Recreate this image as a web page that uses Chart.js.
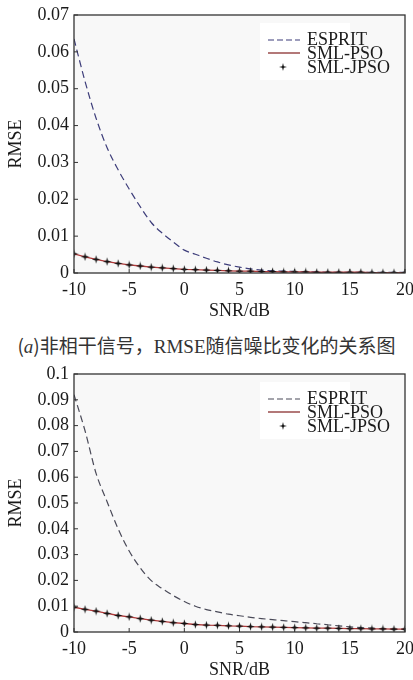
<!DOCTYPE html>
<html>
<head>
<meta charset="utf-8">
<script src="https://cdn.jsdelivr.net/npm/chart.js@4.4.0/dist/chart.umd.min.js"></script>
<style>
  html, body { margin: 0; padding: 0; background: #fff; }
  body { width: 413px; height: 680px; position: relative; overflow: hidden; font-family: "Liberation Serif", serif; color: #1a1a1a; }
  .plot { position: absolute; left: 0; width: 413px; height: 325px; }
  .caption { position: absolute; left: 0; width: 413px; top: 333px; text-align: center; font-size: 19px; line-height: 24px; color: #333; font-family: "Noto Sans CJK SC", sans-serif; }
  .caption .lat { font-family: "Liberation Serif", serif; }
  .legend { position: absolute; left: 260px; width: 90px; height: 57px; background: #fff; padding: 9px 0 0 8px; box-sizing: border-box; }
  .legend .row { height: 14px; line-height: 14px; white-space: nowrap; font-size: 18px; display: flex; align-items: center; }
  .legend svg { width: 32px; height: 14px; margin-right: 7px; flex: none; }
</style>
</head>
<body>
<div class="plot" style="top:0"><canvas id="chart1"></canvas></div>
<div class="legend" style="top:23px">
  <div class="row"><svg viewBox="0 0 32 14"><line x1="0" y1="8" x2="32" y2="8" stroke="#3d3d7a" stroke-width="1.2" stroke-dasharray="6,3"/></svg><span>ESPRIT</span></div>
  <div class="row"><svg viewBox="0 0 32 14"><line x1="0" y1="7" x2="32" y2="7" stroke="#8a2f2f" stroke-width="1.3"/></svg><span>SML-PSO</span></div>
  <div class="row"><svg viewBox="0 0 32 14"><path d="M15 3 L15.8 6.2 L19 7 L15.8 7.8 L15 11 L14.2 7.8 L11 7 L14.2 6.2 Z" fill="#111"/></svg><span>SML-JPSO</span></div>
</div>
<div class="caption">(<i class="lat">a</i>)非相干信号，<span class="lat">RMSE</span>随信噪比变化的关系图</div>
<div class="plot" style="top:359px"><canvas id="chart2"></canvas></div>
<div class="legend" style="top:382px">
  <div class="row"><svg viewBox="0 0 32 14"><line x1="0" y1="8" x2="32" y2="8" stroke="#4a4a58" stroke-width="1.2" stroke-dasharray="6,3"/></svg><span>ESPRIT</span></div>
  <div class="row"><svg viewBox="0 0 32 14"><line x1="0" y1="7" x2="32" y2="7" stroke="#8a2f2f" stroke-width="1.3"/></svg><span>SML-PSO</span></div>
  <div class="row"><svg viewBox="0 0 32 14"><path d="M15 3 L15.8 6.2 L19 7 L15.8 7.8 L15 11 L14.2 7.8 L11 7 L14.2 6.2 Z" fill="#111"/></svg><span>SML-JPSO</span></div>
</div>
<script>
const snr = [-10, -9, -8, -7, -6, -5, -4, -3, -2, -1, 0, 1, 2, 3, 4, 5, 6, 7, 8, 9, 10, 11, 12, 13, 14, 15, 16, 17, 18, 19, 20];
const xTicks = [-10, -5, 0, 5, 10, 15, 20];

// (a) incoherent signals
const yTicks1 = [0, 0.01, 0.02, 0.03, 0.04, 0.05, 0.06, 0.07];
const esprit1 = [0.0635, 0.052, 0.042, 0.034, 0.028, 0.0228, 0.018, 0.0137, 0.0108, 0.0084, 0.0062, 0.0051, 0.004, 0.003, 0.0022, 0.0016, 0.0011, 0.0008, 0.0006, 0.0005, 0.0004, 0.0003, 0.0003, 0.0002, 0.0002, 0.0002, 0.0002, 0.0002, 0.0002, 0.0002, 0.0002];
const pso1 = [0.0052, 0.0044, 0.0037, 0.0031, 0.0026, 0.0022, 0.0019, 0.0016, 0.0014, 0.0012, 0.001, 0.0009, 0.0008, 0.0007, 0.0006, 0.0005, 0.0005, 0.0004, 0.0004, 0.0003, 0.0003, 0.0003, 0.0002, 0.0002, 0.0002, 0.0002, 0.0002, 0.0001, 0.0001, 0.0001, 0.0001];
const jpso1 = [0.0052, 0.0044, 0.0037, 0.0031, 0.0026, 0.0022, 0.0019, 0.0016, 0.0014, 0.0012, 0.001, 0.0009, 0.0008, 0.0007, 0.0006, 0.0005, 0.0005, 0.0004, 0.0004, 0.0003, 0.0003, 0.0003, 0.0002, 0.0002, 0.0002, 0.0002, 0.0002, 0.0001, 0.0001, 0.0001, 0.0001];

// second panel
const yTicks2 = [0, 0.01, 0.02, 0.03, 0.04, 0.05, 0.06, 0.07, 0.08, 0.09, 0.1];
const esprit2 = [0.092, 0.078, 0.0615, 0.0505, 0.04, 0.0314, 0.0249, 0.0199, 0.0168, 0.0141, 0.0118, 0.01, 0.0087, 0.0078, 0.0069, 0.0063, 0.0057, 0.0052, 0.0048, 0.0044, 0.004, 0.0036, 0.0032, 0.0028, 0.0024, 0.002, 0.0017, 0.0015, 0.0013, 0.0012, 0.0011];
const pso2 = [0.0096, 0.0088, 0.0081, 0.0072, 0.0064, 0.0059, 0.0052, 0.0046, 0.0041, 0.0036, 0.0033, 0.0029, 0.0027, 0.0026, 0.0024, 0.0023, 0.0021, 0.002, 0.0019, 0.0018, 0.0017, 0.0016, 0.0015, 0.0015, 0.0014, 0.0013, 0.0013, 0.0012, 0.0012, 0.0011, 0.0011];
const jpso2 = [0.0096, 0.0088, 0.0081, 0.0072, 0.0064, 0.0059, 0.0052, 0.0046, 0.0041, 0.0036, 0.0033, 0.0029, 0.0027, 0.0026, 0.0024, 0.0023, 0.0021, 0.002, 0.0019, 0.0018, 0.0017, 0.0016, 0.0015, 0.0015, 0.0014, 0.0013, 0.0013, 0.0012, 0.0012, 0.0011, 0.0011];

const tickFont = { family: "'Liberation Serif', serif", size: 18 };

// little four-pointed star used as marker
function makeStar() {
    const c = document.createElement('canvas');
    c.width = 9; c.height = 9;
    const g = c.getContext('2d');
    g.fillStyle = '#111';
    g.beginPath();
    g.moveTo(4.5, 0.3); g.lineTo(5.4, 3.6); g.lineTo(8.7, 4.5); g.lineTo(5.4, 5.4);
    g.lineTo(4.5, 8.7); g.lineTo(3.6, 5.4); g.lineTo(0.3, 4.5); g.lineTo(3.6, 3.6);
    g.closePath();
    g.fill();
    return c;
}
const star = makeStar();

// light plot background, frame and inward ticks
const framePlugin = {
    id: 'frame',
    beforeDatasetsDraw(chart) {
        const a = chart.chartArea, ctx = chart.ctx;
        ctx.save();
        ctx.fillStyle = '#f8f8f8';
        ctx.fillRect(a.left, a.top, a.right - a.left, a.bottom - a.top);
        ctx.restore();
    },
    afterDraw(chart) {
        const a = chart.chartArea, ctx = chart.ctx;
        ctx.save();
        ctx.strokeStyle = '#333';
        ctx.lineWidth = 1.3;
        ctx.strokeRect(a.left, a.top, a.right - a.left, a.bottom - a.top);
        ctx.lineWidth = 1;
        ctx.beginPath();
        chart.scales.x.ticks.forEach(t => {
            const px = chart.scales.x.getPixelForValue(t.value);
            ctx.moveTo(px, a.bottom); ctx.lineTo(px, a.bottom - 4);
        });
        chart.scales.y.ticks.forEach(t => {
            const py = chart.scales.y.getPixelForValue(t.value);
            ctx.moveTo(a.left, py); ctx.lineTo(a.left + 4, py);
        });
        ctx.stroke();
        ctx.restore();
    }
};

function makeChart(id, esprit, pso, jpso, yTicks, yMax, espritColor) {
    const pts = arr => snr.map((s, i) => ({ x: s, y: arr[i] }));
    return new Chart(document.getElementById(id), {
        type: 'line',
        data: {
            datasets: [
                { label: 'SML-JPSO', data: pts(jpso), showLine: false, pointStyle: star, pointRadius: 4, order: 0 },
                { label: 'SML-PSO', data: pts(pso), borderColor: '#b03a3a', borderWidth: 1.3, pointRadius: 0, order: 1 },
                { label: 'ESPRIT', data: pts(esprit), borderColor: espritColor, borderWidth: 1.2, borderDash: [7, 4], pointRadius: 0, cubicInterpolationMode: 'monotone', order: 2 }
            ]
        },
        options: {
            responsive: true,
            maintainAspectRatio: false,
            animation: false,
            layout: { autoPadding: false, padding: { top: 15, right: 8, left: 0, bottom: 0 } },
            plugins: { legend: { display: false }, tooltip: { enabled: false } },
            scales: {
                x: {
                    type: 'linear', min: -10, max: 20,
                    afterBuildTicks: s => { s.ticks = xTicks.map(v => ({ value: v })); },
                    afterFit: s => { s.height = 52; s.paddingLeft = 0; s.paddingRight = 0; },
                    grid: { display: false, drawTicks: false },
                    border: { display: false },
                    ticks: { font: tickFont, color: '#1a1a1a', padding: 6, maxRotation: 0 },
                    title: { display: true, text: 'SNR/dB', font: tickFont, color: '#1a1a1a', padding: { top: 0, bottom: 3 } }
                },
                y: {
                    min: 0, max: yMax,
                    afterBuildTicks: s => { s.ticks = yTicks.map(v => ({ value: v })); },
                    afterFit: s => { s.width = 74; s.paddingTop = 0; s.paddingBottom = 0; },
                    grid: { display: false, drawTicks: false },
                    border: { display: false },
                    ticks: { font: tickFont, color: '#1a1a1a', padding: 5, callback: v => String(parseFloat(v.toFixed(2))) },
                    title: { display: true, text: 'RMSE', font: tickFont, color: '#1a1a1a', padding: { top: 5, bottom: 0 } }
                }
            }
        },
        plugins: [framePlugin]
    });
}

makeChart('chart1', esprit1, pso1, jpso1, yTicks1, 0.07, '#3d3d7a');
makeChart('chart2', esprit2, pso2, jpso2, yTicks2, 0.1, '#4a4a58');
</script>
</body>
</html>
